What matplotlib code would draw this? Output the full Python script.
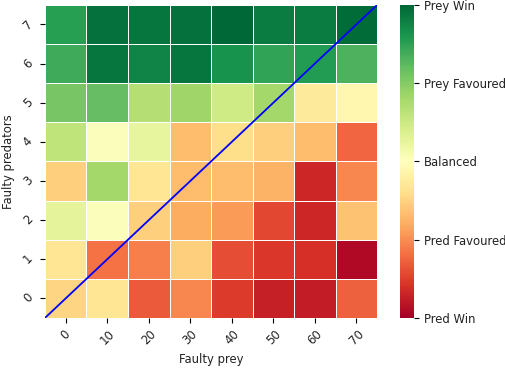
import numpy as np
import matplotlib
matplotlib.use("Agg")
import matplotlib.pyplot as plt
import seaborn as sns

faulty_prey = [0, 10, 20, 30, 40, 50, 60, 70]
faulty_predators = [0, 1, 2, 3, 4, 5, 6, 7]
cbar_labels = ["Pred Win", "Pred Favoured", "Balanced", "Prey Favoured", "Prey Win"]

# colour position (0..1 of RdYlGn), rows = faulty predators 0..7
row0 = [0.38, 0.42, 0.17, 0.24, 0.12, 0.07, 0.06, 0.18]
row1 = [0.42, 0.21, 0.23, 0.37, 0.15, 0.11, 0.10, 0.02]
row2 = [0.57, 0.51, 0.37, 0.30, 0.27, 0.14, 0.08, 0.34]
row3 = [0.37, 0.70, 0.42, 0.33, 0.33, 0.31, 0.08, 0.24]
row4 = [0.65, 0.51, 0.56, 0.33, 0.40, 0.37, 0.33, 0.19]
row5 = [0.77, 0.80, 0.67, 0.71, 0.62, 0.70, 0.43, 0.47]
row6 = [0.85, 0.97, 0.94, 0.97, 0.91, 0.87, 0.89, 0.83]
row7 = [0.88, 0.98, 0.97, 0.98, 1.00, 0.96, 0.96, 0.99]

data = np.array([row0, row1, row2, row3, row4, row5, row6, row7]) * 2 - 1

fs = 8.4
plt.rcParams["font.size"] = fs
plt.rcParams["text.color"] = "#222222"
plt.rcParams["axes.labelcolor"] = "#222222"
plt.rcParams["xtick.labelcolor"] = "#222222"
plt.rcParams["ytick.labelcolor"] = "#222222"

fig = plt.figure(figsize=(5.05, 3.71), dpi=100)
ax = fig.add_axes([0.089, 0.143, 0.658, 0.844])
cax = fig.add_axes([0.792, 0.143, 0.028, 0.844])

sns.heatmap(data, ax=ax, cbar_ax=cax, cmap="RdYlGn", vmin=-1, vmax=1,
            linewidths=0.5, linecolor="white",
            xticklabels=faulty_prey, yticklabels=faulty_predators)
ax.invert_yaxis()
ax.plot([0, 8], [0, 8], color="blue", lw=1.3, clip_on=True)
ax.set_xlabel("Faulty prey", fontsize=fs)
ax.set_ylabel("Faulty predators", fontsize=fs)
plt.setp(ax.get_xticklabels(), rotation=45, fontsize=fs)
plt.setp(ax.get_yticklabels(), rotation=45, fontsize=fs)

cax.set_yticks([-1, -0.5, 0, 0.5, 1])
cax.set_yticklabels(cbar_labels, fontsize=fs)

fig.savefig("out.png", dpi=100)
